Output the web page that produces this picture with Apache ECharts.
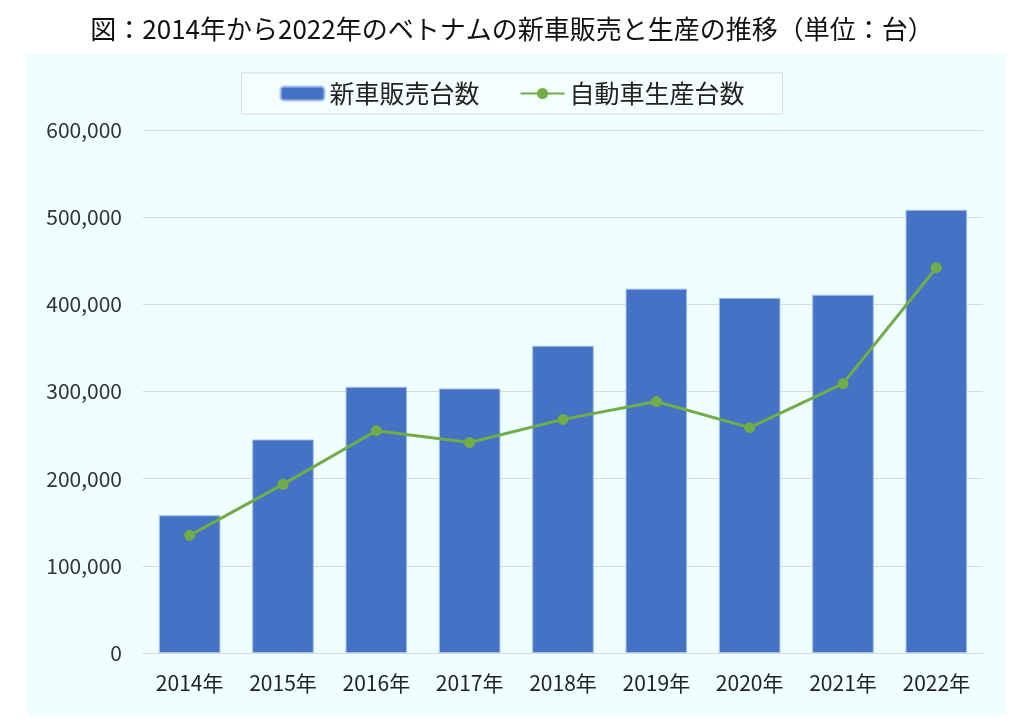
<!DOCTYPE html>
<html>
<head>
<meta charset="utf-8">
<script src="https://cdn.jsdelivr.net/npm/echarts@6/dist/echarts.min.js"></script>
<style>
  html, body { margin: 0; padding: 0; background: #fff; }
  #chart { width: 1024px; height: 725px; }
</style>
</head>
<body>
<div id="chart"></div>
<script>
const years = ['2014年', '2015年', '2016年', '2017年', '2018年', '2019年', '2020年', '2021年', '2022年']
const sales = [158000, 245000, 305500, 303500, 352500, 418000, 407500, 411000, 508500]
const production = [135000, 193500, 255000, 241500, 268000, 288500, 258500, 309000, 442000]
const yTicks = [0, 100000, 200000, 300000, 400000, 500000, 600000]

const font = '"Noto Sans CJK JP", "Noto Sans", sans-serif'
const chart = echarts.init(document.getElementById('chart'))

const option = {
  animation: false,
  textStyle: { fontFamily: font },
  title: {
    text: '図：2014年から2022年のベトナムの新車販売と生産の推移（単位：台）',
    left: 'center',
    top: 11,
    textStyle: { fontSize: 26, fontWeight: 'normal', color: '#111', fontFamily: font }
  },
  graphic: [
    {
      type: 'rect',
      z: -10,
      shape: { x: 27, y: 54, width: 979, height: 662 },
      style: { fill: '#effefe' }
    }
  ],
  legend: {
    top: 73,
    left: 'center',
    padding: [8, 38, 8, 38],
    borderColor: '#d9d9d9',
    borderWidth: 1,
    backgroundColor: '#f4fefe',
    itemGap: 40,
    itemWidth: 44,
    itemHeight: 14,
    textStyle: { fontSize: 25, color: '#222', fontFamily: font },
    data: ['新車販売台数', '自動車生産台数']
  },
  grid: { left: 143, right: 41, top: 130, bottom: 72 },
  xAxis: {
    type: 'category',
    data: years,
    axisLine: { lineStyle: { color: '#d9d9d9' } },
    axisTick: { show: false },
    axisLabel: { fontSize: 21, color: '#222', margin: 20 }
  },
  yAxis: {
    type: 'value',
    min: 0,
    max: yTicks[yTicks.length - 1],
    interval: 100000,
    axisLine: { show: false },
    axisTick: { show: false },
    splitLine: { lineStyle: { color: '#d9d9d9', width: 1 } },
    axisLabel: {
      fontSize: 21,
      color: '#333',
      margin: 21,
      formatter: v => v.toLocaleString('en-US')
    }
  },
  series: [
    {
      name: '新車販売台数',
      type: 'bar',
      data: sales,
      barWidth: '66%',
      itemStyle: { color: '#4472c4', borderColor: '#a9c0ea', borderWidth: 1 }
    },
    {
      name: '自動車生産台数',
      type: 'line',
      data: production,
      symbol: 'circle',
      symbolSize: 11,
      lineStyle: { color: '#70ad47', width: 3 },
      itemStyle: { color: '#70ad47' }
    }
  ]
}
chart.setOption(option)
</script>
</body>
</html>
